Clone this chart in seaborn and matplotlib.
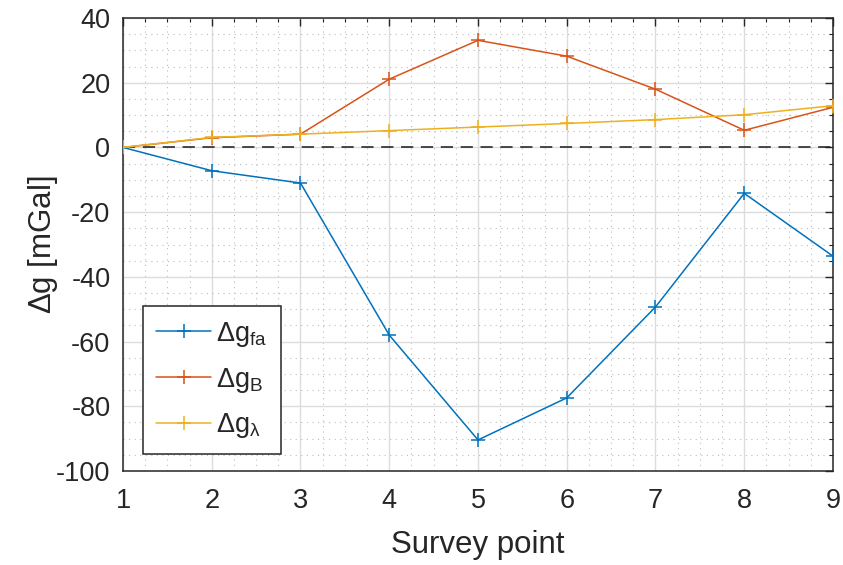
import numpy as np
import pandas as pd
import seaborn as sns
import matplotlib
matplotlib.use("Agg")
import matplotlib.pyplot as plt
from matplotlib.ticker import MultipleLocator

# Survey data
points = [1, 2, 3, 4, 5, 6, 7, 8, 9]
dg_fa = [0, -7.2, -11, -58, -90.4, -77.4, -49.3, -14.2, -33.6]
dg_b = [0, 3.0, 4.1, 21.1, 33.1, 28.2, 18.0, 5.3, 12.4]
dg_lambda = [0, 3.1, 4.1, 5.2, 6.3, 7.4, 8.6, 10.1, 12.9]
series_labels = [r"$\Delta$g$_{\mathrm{fa}}$", r"$\Delta$g$_{\mathrm{B}}$", r"$\Delta$g$_{\mathrm{\lambda}}$"]
colors = ["#0072BD", "#D95319", "#EDB120"]
xticks = [1, 2, 3, 4, 5, 6, 7, 8, 9]
yticks = [-100, -80, -60, -40, -20, 0, 20, 40]

sns.set_theme(style="white")
plt.rcParams["font.family"] = ["Liberation Sans", "DejaVu Sans"]
plt.rcParams["mathtext.fontset"] = "custom"
plt.rcParams["mathtext.rm"] = "Liberation Sans"
plt.rcParams["mathtext.it"] = "Liberation Sans"
plt.rcParams["mathtext.sf"] = "Liberation Sans"

text_color = "#262626"

df = pd.DataFrame({
    "point": points * 3,
    "value": dg_fa + dg_b + dg_lambda,
    "series": [series_labels[0]] * 9 + [series_labels[1]] * 9 + [series_labels[2]] * 9,
})

fig = plt.figure(figsize=(8.43, 5.65), dpi=100)
ax = fig.add_axes([123 / 843, 1 - 471 / 565, 710 / 843, 453 / 565])

# grid first so lines sit on top
ax.set_axisbelow(True)
ax.xaxis.set_major_locator(MultipleLocator(1))
ax.xaxis.set_minor_locator(MultipleLocator(0.25))
ax.yaxis.set_major_locator(MultipleLocator(20))
ax.yaxis.set_minor_locator(MultipleLocator(5))
ax.grid(which="major", color="#dcdcdc", linewidth=1.0, linestyle="-")
ax.grid(which="minor", color="#bdbdbd", linewidth=0.8, linestyle=(0, (1, 4)))

ax.axhline(0, color="#1a1a1a", linewidth=1.1, linestyle=(0, (8, 5)), zorder=1.5)

sns.lineplot(data=df, x="point", y="value", hue="series", palette=colors,
             marker="+", markersize=10, markeredgewidth=1.1, linewidth=1.1,
             ax=ax, legend=False, zorder=3)
# plus markers take the line colour
for line in ax.get_lines():
    if line.get_marker() == "+":
        line.set_markeredgecolor(line.get_color())

ax.set_xlim(1, 9)
ax.set_ylim(-100, 40)
ax.set_xticks(xticks)
ax.set_yticks(yticks)
ax.set_xticklabels([str(t) for t in xticks])
ax.set_yticklabels([str(t) for t in yticks])

ax.tick_params(which="major", direction="in", length=6, width=1, colors=text_color,
               labelsize=19.5, top=True, right=True)
ax.tick_params(axis="x", which="major", pad=12)
ax.tick_params(axis="y", which="major", pad=9)
ax.tick_params(which="minor", direction="in", length=3, width=0.8, colors=text_color,
               top=True, right=True)
for s in ax.spines.values():
    s.set_color(text_color)
    s.set_linewidth(1.1)
    s.set_visible(True)

ax.set_xlabel("Survey point", fontsize=22.5, color=text_color, labelpad=12)
ax.set_ylabel(r"$\Delta$g [mGal]", fontsize=22.5, color=text_color, labelpad=-3)

handles = [plt.Line2D([], [], color=c, marker="+", markersize=10, markeredgewidth=1.1,
                      markeredgecolor=c, linewidth=1.1) for c in colors]
leg = ax.legend(handles, series_labels, loc="lower left", bbox_to_anchor=(0.028, 0.0375),
                borderaxespad=0, fontsize=19.5, frameon=True, fancybox=False,
                edgecolor=text_color, framealpha=1, handlelength=2.0, handletextpad=0.2,
                labelspacing=0.62, borderpad=0.5)
leg.get_frame().set_linewidth(1.1)
for t in leg.get_texts():
    t.set_color(text_color)

fig.savefig("out.png", dpi=100)
